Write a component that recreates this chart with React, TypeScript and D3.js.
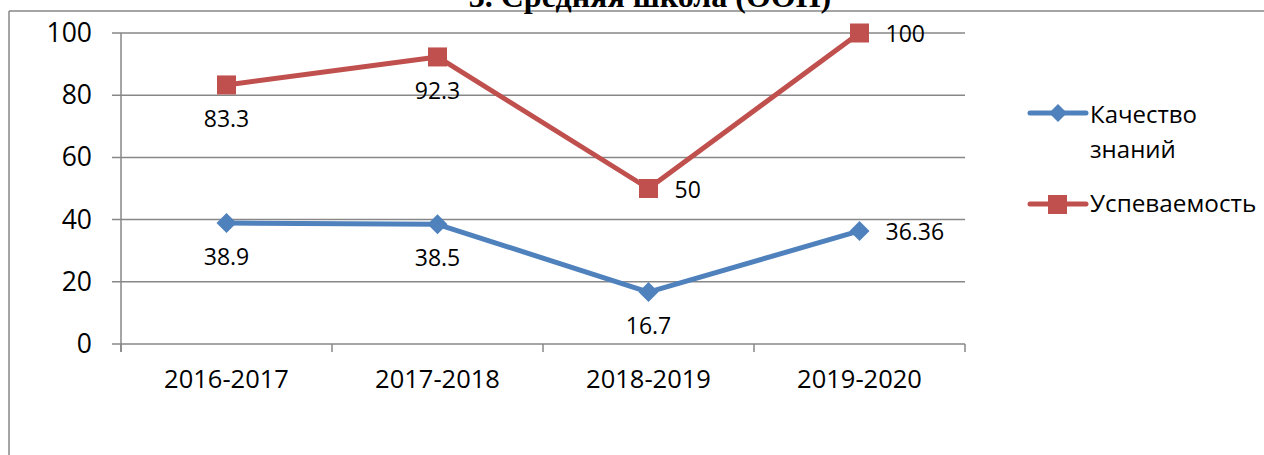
import React from "react";
import * as d3 from "d3";

const categories = ["2016-2017", "2017-2018", "2018-2019", "2019-2020"];
const qualityValues = [38.9, 38.5, 16.7, 36.36];
const progressValues = [83.3, 92.3, 50, 100];
const qualityLabels = ["38.9", "38.5", "16.7", "36.36"];
const progressLabels = ["83.3", "92.3", "50", "100"];
const yTicks = [0, 20, 40, 60, 80, 100];
const seriesNames = ["Качество знаний", "Успеваемость"];
const titleText = "3. Средняя школа (ООП)";

const qualityPlacement = ["below", "below", "below", "right"];
const progressPlacement = ["below", "below", "right", "right"];

const W = 1264;
const H = 455;
const BLUE = "#4F81BD";
const RED = "#C0504D";
const GRID = "#878787";
const FONT = "'Open Sans', 'Noto Sans', sans-serif";

export default function App() {
  const x = d3.scaleBand<string>().domain(categories).range([121, 965]).padding(0);
  const y = d3.scaleLinear().domain([0, 100]).range([344, 33]);
  const cx = (c: string) => (x(c) as number) + x.bandwidth() / 2;

  const line = d3
    .line<number>()
    .x((_, i) => cx(categories[i]))
    .y((d) => y(d));

  const labelPos = (i: number, v: number, place: string) => {
    const px = cx(categories[i]);
    const py = y(v);
    if (place === "right") return { x: px + 26, y: py + 9, anchor: "start" };
    return { x: px, y: py + 42, anchor: "middle" };
  };

  const diamond = (px: number, py: number, r: number) =>
    `M${px},${py - r}L${px + r},${py}L${px},${py + r}L${px - r},${py}Z`;

  return (
    <svg
      width={W}
      height={H}
      style={{ position: "absolute", left: 0, top: 0, background: "#fff" }}
      fontFamily={FONT}
    >
      <rect x={0} y={0} width={W} height={H} fill="#fff" />
      {/* outer border */}
      <line x1={9} y1={11} x2={W} y2={11} stroke={GRID} strokeWidth={1.5} />
      <line x1={9} y1={11} x2={9} y2={H} stroke={GRID} strokeWidth={1.5} />
      {/* title (cut off at top) */}
      <text
        x={650}
        y={7}
        textAnchor="middle"
        fontFamily="'Liberation Serif', 'Times New Roman', serif"
        fontWeight="bold"
        fontSize={32}
        fill="#000"
      >
        {titleText}
      </text>

      {/* gridlines */}
      {yTicks.map((t) => (
        <g key={t}>
          <line x1={112} x2={965} y1={y(t)} y2={y(t)} stroke={GRID} strokeWidth={1.5} />
          <text x={92} y={y(t) + 9} textAnchor="end" fontSize={26.5} fill="#000">
            {t}
          </text>
        </g>
      ))}
      {/* y axis */}
      <line x1={121} x2={121} y1={33} y2={352} stroke={GRID} strokeWidth={1.5} />
      {/* x ticks */}
      {[...categories.map((c) => x(c) as number), 965].map((tx, i) => (
        <line key={i} x1={tx} x2={tx} y1={344} y2={352} stroke={GRID} strokeWidth={1.5} />
      ))}
      {categories.map((c) => (
        <text key={c} x={cx(c)} y={388} textAnchor="middle" fontSize={25.5} fill="#000">
          {c}
        </text>
      ))}

      {/* series lines */}
      <path d={line(progressValues) || ""} fill="none" stroke={RED} strokeWidth={5} strokeLinejoin="round" />
      <path d={line(qualityValues) || ""} fill="none" stroke={BLUE} strokeWidth={5} strokeLinejoin="round" />

      {progressValues.map((v, i) => (
        <rect key={i} x={cx(categories[i]) - 9.5} y={y(v) - 9.5} width={19} height={19} fill={RED} />
      ))}
      {qualityValues.map((v, i) => (
        <path key={i} d={diamond(cx(categories[i]), y(v), 10)} fill={BLUE} />
      ))}

      {/* data labels */}
      {progressValues.map((v, i) => {
        const p = labelPos(i, v, progressPlacement[i]);
        return (
          <text key={i} x={p.x} y={p.y} textAnchor={p.anchor} fontSize={23} fill="#000">
            {progressLabels[i]}
          </text>
        );
      })}
      {qualityValues.map((v, i) => {
        const p = labelPos(i, v, qualityPlacement[i]);
        return (
          <text key={i} x={p.x} y={p.y} textAnchor={p.anchor} fontSize={23} fill="#000">
            {qualityLabels[i]}
          </text>
        );
      })}

      {/* legend */}
      <line x1={1030} x2={1086} y1={113} y2={113} stroke={BLUE} strokeWidth={5} strokeLinecap="round" />
      <path d={diamond(1058, 113, 9)} fill={BLUE} />
      <text x={1090} y={123} fontSize={24} fill="#000">
        {seriesNames[0].split(" ")[0]}
      </text>
      <text x={1090} y={158} fontSize={24} fill="#000">
        {seriesNames[0].split(" ")[1]}
      </text>
      <line x1={1030} x2={1086} y1={204} y2={204} stroke={RED} strokeWidth={5} strokeLinecap="round" />
      <rect x={1048} y={195} width={19} height={19} fill={RED} />
      <text x={1090} y={212} fontSize={24.3} fill="#000">
        {seriesNames[1]}
      </text>
    </svg>
  );
}
